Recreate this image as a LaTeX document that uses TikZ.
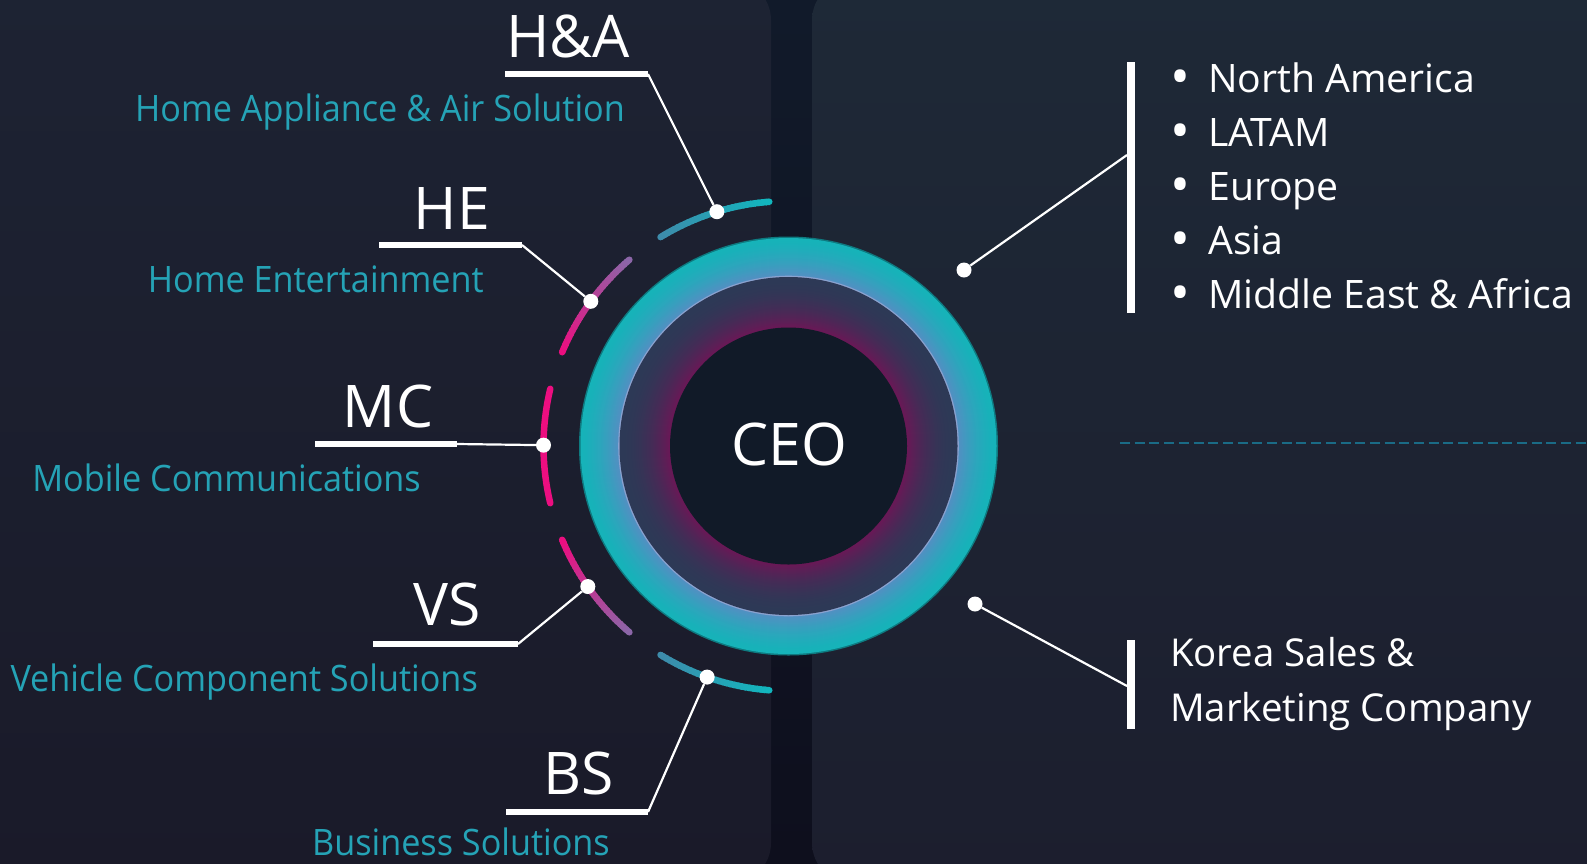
\documentclass[tikz,border=0pt]{standalone}
\usepackage{fontspec}
\setmainfont{Open Sans}
\newfontfamily\narrowfont{Open Sans}[FakeStretch=0.94]
\usetikzlibrary{calc}
\definecolor{gapTop}{HTML}{111A2A}
\definecolor{gapBot}{HTML}{0E0F1D}
\definecolor{lpTop}{HTML}{1D2333}
\definecolor{lpBot}{HTML}{1A1A29}
\definecolor{rpTop}{HTML}{1E2937}
\definecolor{rpBot}{HTML}{1C1E2E}
\definecolor{tealtxt}{HTML}{25A3B6}
\definecolor{arcteal}{HTML}{12B6BE}
\definecolor{arcblue}{HTML}{3D8BAA}
\definecolor{arcpink}{HTML}{EC0E80}
\definecolor{arcpurple}{HTML}{8C66A8}
\definecolor{ringedge}{HTML}{0E7A80}
\definecolor{ringA}{HTML}{16B3B9}
\definecolor{ringB}{HTML}{5290C2}
\definecolor{ringhl}{HTML}{8AA2CF}
\definecolor{annA}{HTML}{2D3956}
\definecolor{annB}{HTML}{6A1856}
\definecolor{coreC}{HTML}{111A28}
\definecolor{dashc}{HTML}{1A6B86}
\tikzset{
  arcline/.style={line width=6.5pt, line cap=butt},
  dot/.style={circle, fill=white, inner sep=0pt, minimum size=15pt},
  barline/.style={white, line width=6.5pt},
  rbar/.style={white, line width=8pt},
  conn/.style={white, line width=2.2pt},
  big/.style={text=white, font=\fontsize{58.8}{60}\selectfont, inner sep=0pt, anchor=base},
  sub/.style={text=tealtxt, font=\narrowfont\fontsize{36.4}{40}\selectfont, inner sep=0pt, anchor=base east},
  lst/.style={text=white, font=\fontsize{39.2}{44}\selectfont, inner sep=0pt, anchor=base west},
  kor/.style={text=white, font=\fontsize{38.4}{42}\selectfont, inner sep=0pt, anchor=base west}
}
\newcommand\bul{\makebox[38pt][l]{\raisebox{-3.5pt}{\scalebox{1.35}{•}}}}
\newcommand\gradarc[4]{%
  \foreach \gi in {0,...,29}{%
    \pgfmathsetmacro\gA{#1+(#2-#1)*\gi/30}%
    \pgfmathsetmacro\gB{#1+(#2-#1)*min(\gi+1.4,30)/30}%
    \pgfmathtruncatemacro\gP{100-100*\gi/29}%
    \draw[arcline, draw=#3!\gP!#4] (ctr) ++(\gA:245) arc[start angle=\gA, end angle=\gB, radius=245];
  }%
  \fill[#3] (ctr) ++(#1:245) circle[radius=3.25];
  \fill[#4] (ctr) ++(#2:245) circle[radius=3.25];
}
\begin{document}
\begin{tikzpicture}[x=1pt,y=-1pt]
\useasboundingbox (0,0) rectangle (1587,863);
% background
\shade[top color=gapTop, bottom color=gapBot] (0,0) rectangle (1587,863);
\shade[top color=lpTop, bottom color=lpBot, rounded corners=40pt] (-60,-20) rectangle (771,883);
\shade[top color=rpTop, bottom color=rpBot, rounded corners=40pt] (812,-20) rectangle (1650,883);
% dashed separator
\coordinate (dashL) at (1120,443);
\coordinate (dashR) at (1587,443);
\draw[dashc, line width=2pt, dash pattern=on 10pt off 4.7pt] (dashL) -- (dashR);
% CEO disc
\coordinate (ctr) at (788.5,446);
\fill[ringedge] (ctr) circle[radius=209.5];
\foreach \rr in {208,207,...,171}{%
  \pgfmathtruncatemacro\ringpc{100*((208-\rr)/37)*sqrt((208-\rr)/37)}%
  \fill[ringB!\ringpc!ringA] (ctr) circle[radius=\rr];
}
\fill[ringhl] (ctr) circle[radius=170.3];
\foreach \rr in {169,168,...,119}{%
  \pgfmathtruncatemacro\ringpc{100*((169-\rr)/50)*((169-\rr)/50)}%
  \fill[annB!\ringpc!annA] (ctr) circle[radius=\rr];
}
\fill[coreC] (ctr) circle[radius=118.5];
\node[big] (ceo) at (789,465) {CEO};
% arcs
\gradarc{238.5}{265.5}{arcblue}{arcteal}
\gradarc{202.5}{229.5}{arcpink}{arcpurple}
\draw[line width=6.5pt, arcpink, line cap=round] (ctr) ++(166.5:245) arc[start angle=166.5, end angle=193.5, radius=245];
\gradarc{130.5}{157.5}{arcpurple}{arcpink}
\gradarc{94.5}{121.5}{arcteal}{arcblue}
% dots
\node[dot] (dHA) at ($(ctr)+(253:245)$) {};
\node[dot] (dHE) at ($(ctr)+(216.2:245)$) {};
\node[dot] (dMC) at ($(ctr)+(180.2:245)$) {};
\node[dot] (dVS) at ($(ctr)+(145:245)$) {};
\node[dot] (dBS) at ($(ctr)+(109.4:245)$) {};
\node[dot] (dR1) at (964,270) {};
\node[dot] (dR2) at (975,604) {};
% left connectors
\coordinate (haL) at (505,74); \coordinate (haR) at (648,74);
\coordinate (heL) at (379,245); \coordinate (heR) at (522,245);
\coordinate (mcL) at (315,444); \coordinate (mcR) at (457,444);
\coordinate (vsL) at (373,644); \coordinate (vsR) at (518,644);
\coordinate (bsL) at (506,812); \coordinate (bsR) at (648,812);
\draw[barline] (haL) -- (haR); \draw[conn] (haR) -- (dHA);
\draw[barline] (heL) -- (heR); \draw[conn] (heR) -- (dHE);
\draw[barline] (mcL) -- (mcR); \draw[conn] (mcR) -- (dMC);
\draw[barline] (vsL) -- (vsR); \draw[conn] (vsR) -- (dVS);
\draw[barline] (bsL) -- (bsR); \draw[conn] (bsR) -- (dBS);
% left labels
\node[big] (tHA) at (568,57) {H\&A};
\node[sub] (sHA) at (625,121) {Home Appliance \& Air Solution};
\node[big] (tHE) at (452,229) {HE};
\node[sub] (sHE) at (484,292) {Home Entertainment};
\node[big] (tMC) at (388,427) {MC};
\node[sub] (sMC) at (421,491) {Mobile Communications};
\node[big] (tVS) at (447,625) {VS};
\node[sub] (sVS) at (478,691) {Vehicle Component Solutions};
\node[big] (tBS) at (579,794) {BS};
\node[sub] (sBS) at (610,855) {Business Solutions};
% right top
\coordinate (r1T) at (1131,62); \coordinate (r1B) at (1131,313); \coordinate (r1J) at (1127,155);
\draw[rbar] (r1T) -- (r1B);
\draw[conn] (dR1) -- (r1J);
\node[lst] (l1) at (1170,92) {\bul North America};
\node[lst] (l2) at (1170,146) {\bul LATAM};
\node[lst] (l3) at (1170,200) {\bul Europe};
\node[lst] (l4) at (1170,254) {\bul Asia};
\node[lst] (l5) at (1170,308) {\bul Middle East \& Africa};
% right bottom
\coordinate (r2T) at (1131,640); \coordinate (r2B) at (1131,729); \coordinate (r2J) at (1127,686);
\draw[rbar] (r2T) -- (r2B);
\draw[conn] (dR2) -- (r2J);
\node[kor] (k1) at (1170,666) {Korea Sales \&};
\node[kor] (k2) at (1170,721) {Marketing Company};
\end{tikzpicture}
\end{document}
